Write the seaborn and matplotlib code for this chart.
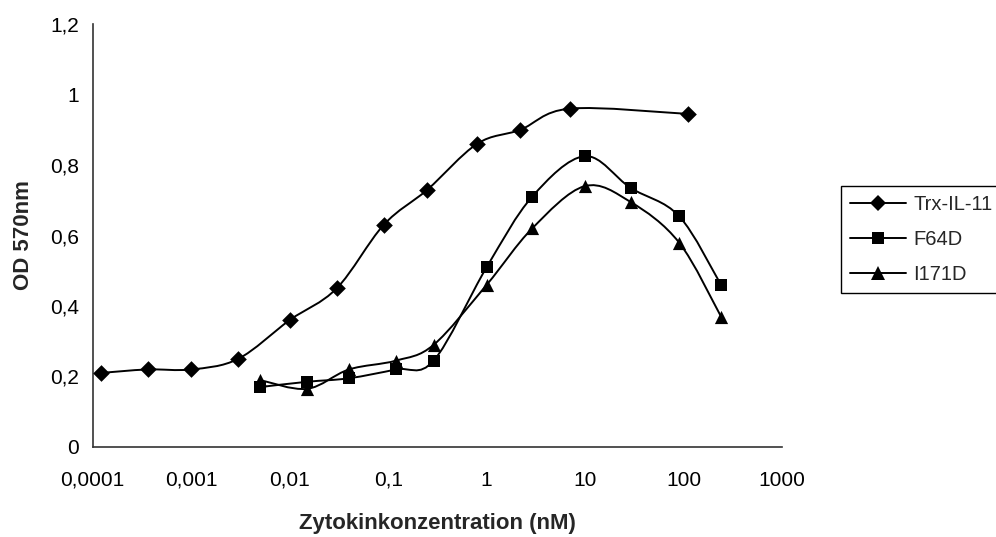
import numpy as np
import pandas as pd
import matplotlib
matplotlib.use("Agg")
import matplotlib.pyplot as plt
import seaborn as sns
from matplotlib.path import Path
from matplotlib.patches import PathPatch
from matplotlib.lines import Line2D
from matplotlib.ticker import FixedLocator, FuncFormatter, NullLocator

# Data
trx_x = [0.00012, 0.00036, 0.001, 0.003, 0.01, 0.03, 0.09, 0.25, 0.8, 2.2, 7, 110]
trx_y = [0.21, 0.22, 0.22, 0.25, 0.36, 0.45, 0.63, 0.73, 0.86, 0.90, 0.96, 0.945]

mut_x = [0.005, 0.015, 0.04, 0.12, 0.29, 1.0, 2.9, 9.9, 29, 90, 240]
f64d_y = [0.17, 0.185, 0.195, 0.22, 0.245, 0.51, 0.71, 0.825, 0.735, 0.655, 0.46]
i171d_y = [0.19, 0.165, 0.22, 0.245, 0.29, 0.46, 0.62, 0.74, 0.695, 0.58, 0.37]

series_names = ["Trx-IL-11", "F64D", "I171D"]
x_ticks = [0.0001, 0.001, 0.01, 0.1, 1, 10, 100, 1000]
y_ticks = [0, 0.2, 0.4, 0.6, 0.8, 1, 1.2]

sns.set_style("white")
plt.rcParams["font.family"] = ["Liberation Sans", "DejaVu Sans"]


def smooth_path(xs, ys, t=1 / 6):
    # Excel-like smoothed line: cubic Bezier in (log x, y) space
    lx = np.log10(xs)
    y = np.asarray(ys, dtype=float)
    n = len(lx)
    verts = [(xs[0], y[0])]
    codes = [Path.MOVETO]
    for i in range(n - 1):
        i0 = max(i - 1, 0)
        i3 = min(i + 2, n - 1)
        c1x = lx[i] + (lx[i + 1] - lx[i0]) * t
        c1y = y[i] + (y[i + 1] - y[i0]) * t
        c2x = lx[i + 1] - (lx[i3] - lx[i]) * t
        c2y = y[i + 1] - (y[i3] - y[i]) * t
        verts += [(10 ** c1x, c1y), (10 ** c2x, c2y), (xs[i + 1], y[i + 1])]
        codes += [Path.CURVE4] * 3
    return Path(verts, codes)


fig = plt.figure(figsize=(9.96, 5.37), dpi=100)
ax = fig.add_axes([0.0931, 0.1676, 0.6921, 0.7877])

series = [
    (trx_x, trx_y, "D", 72),
    (mut_x, f64d_y, "s", 70),
    (mut_x, i171d_y, "^", 90),
]
handles = []
for (xs, ys, mk, sz), name in zip(series, series_names):
    ax.add_patch(PathPatch(smooth_path(xs, ys), fill=False, edgecolor="black",
                           lw=1.4, transform=ax.transData, zorder=2))
    sns.scatterplot(x=xs, y=ys, marker=mk, s=sz, color="black",
                    edgecolor="black", linewidth=0, ax=ax, zorder=3)
    handles.append(Line2D([], [], color="black", lw=1.4, marker=mk,
                          markersize=np.sqrt(sz), markeredgewidth=0))

ax.set_xscale("log")
ax.set_xlim(0.0001, 1000)
ax.set_ylim(0, 1.2)
ax.xaxis.set_major_locator(FixedLocator(x_ticks))
ax.xaxis.set_minor_locator(NullLocator())
ax.yaxis.set_major_locator(FixedLocator(y_ticks))
comma = FuncFormatter(lambda v, p: f"{v:g}".replace(".", ","))
ax.xaxis.set_major_formatter(comma)
ax.yaxis.set_major_formatter(comma)

for side in ["top", "right"]:
    ax.spines[side].set_visible(False)
for side in ["left", "bottom"]:
    ax.spines[side].set_color("#333333")
    ax.spines[side].set_linewidth(1.2)
ax.tick_params(axis="both", direction="out", length=4, width=1, color="#333333",
               labelsize=15, labelcolor="black")
ax.tick_params(axis="x", pad=13)
ax.tick_params(axis="y", pad=6)

ax.set_xlabel("Zytokinkonzentration (nM)", fontsize=16, fontweight="bold")
ax.set_ylabel("OD 570nm", fontsize=16, fontweight="bold")
ax.xaxis.set_label_coords(0.5, -0.18)
ax.xaxis.label.set_va("center")
ax.yaxis.set_label_coords(-0.1, 0.5)
ax.yaxis.label.set_va("center")

leg = fig.legend(handles, series_names, loc="lower left",
                 bbox_to_anchor=(841 / 996, 1 - 293 / 537), borderaxespad=0,
                 fontsize=14.5, frameon=True, fancybox=False, framealpha=1,
                 edgecolor="black", handlelength=2.8, handletextpad=0.35,
                 labelspacing=0.8, borderpad=0.45)
leg.get_frame().set_linewidth(1.0)

fig.savefig("out.png", dpi=100)
